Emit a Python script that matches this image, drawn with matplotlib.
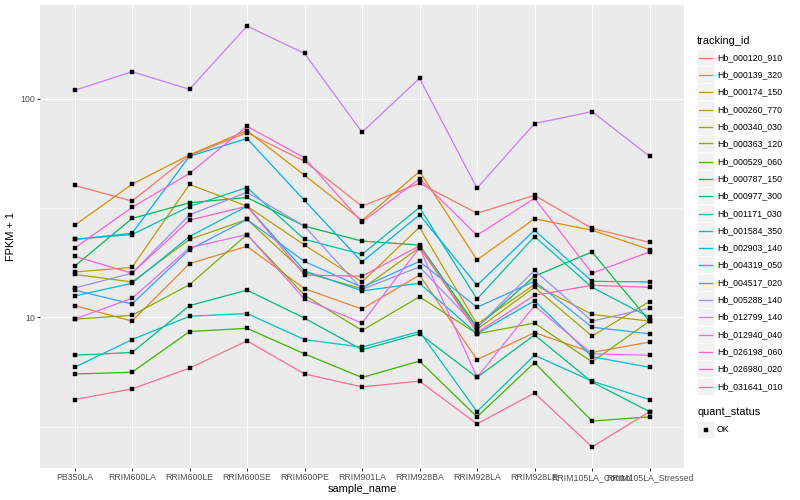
import matplotlib
matplotlib.use("Agg")
import matplotlib.pyplot as plt
import numpy as np
from matplotlib.patches import Rectangle
from matplotlib.lines import Line2D

plt.rcParams['font.family'] = ['Liberation Sans', 'DejaVu Sans']

# %% datos
sample_names = ["PB350LA", "RRIM600LA", "RRIM600LE", "RRIM600SE", "RRIM600PE",
                "RRIM901LA", "RRIM928BA", "RRIM928LA", "RRIM928LE",
                "RRIM105LA_Control", "RRIM105LA_Stressed"]

tracking_ids = ["Hb_000120_910", "Hb_000139_320", "Hb_000174_150", "Hb_000260_770",
                "Hb_000340_030", "Hb_000363_120", "Hb_000529_060", "Hb_000787_150",
                "Hb_000977_300", "Hb_001171_030", "Hb_001584_350", "Hb_002903_140",
                "Hb_004319_050", "Hb_004517_020", "Hb_005288_140", "Hb_012799_140",
                "Hb_012940_040", "Hb_026198_060", "Hb_026980_020", "Hb_031641_010"]

# FPKM + 1 por muestra
hb_000120_910 = [40.1, 34.0, 54.9, 69.9, 51.7, 32.2, 41.0, 29.9, 36.1, 25.5, 22.0]
hb_000139_320 = [11.3, 9.6, 17.6, 21.1, 13.5, 10.9, 15.6, 6.4, 8.5, 6.9, 7.7]
hb_000174_150 = [26.3, 40.6, 55.3, 71.4, 44.6, 27.7, 46.4, 18.3, 28.2, 25.0, 20.4]
hb_000260_770 = [16.1, 16.9, 40.5, 32.2, 21.4, 14.5, 25.8, 9.3, 14.1, 10.3, 9.6]
hb_000340_030 = [15.7, 14.5, 22.7, 28.0, 16.0, 13.5, 20.8, 8.8, 13.7, 8.2, 11.8]
hb_000363_120 = [9.8, 10.2, 14.1, 23.9, 12.6, 8.7, 12.4, 8.4, 9.4, 6.25, 9.6]
hb_000529_060 = [5.5, 5.6, 8.6, 8.9, 6.8, 5.3, 6.3, 3.5, 6.2, 3.35, 3.5]
hb_000787_150 = [17.1, 28.3, 33.4, 35.3, 26.1, 22.3, 21.4, 9.0, 15.4, 19.9, 9.6]
hb_000977_300 = [6.7, 6.9, 11.3, 13.3, 9.9, 7.1, 8.4, 5.3, 8.3, 5.05, 3.7]
hb_001171_030 = [22.7, 23.9, 32.1, 39.2, 22.7, 19.4, 31.8, 12.1, 23.4, 13.7, 10.0]
hb_001584_350 = [5.9, 7.9, 10.1, 10.4, 7.9, 7.3, 8.6, 3.7, 6.7, 5.1, 4.2]
hb_002903_140 = [12.5, 14.3, 23.4, 32.2, 16.3, 13.2, 14.3, 8.4, 11.9, 6.6, 5.9]
hb_004319_050 = [22.7, 24.2, 54.5, 65.7, 34.2, 17.9, 29.4, 14.0, 25.0, 14.6, 14.5]
hb_004517_020 = [13.3, 11.5, 20.4, 28.0, 18.0, 13.7, 18.0, 11.1, 14.6, 9.0, 8.4]
hb_005288_140 = [13.6, 15.9, 29.4, 37.3, 26.1, 13.4, 17.0, 9.0, 16.4, 9.6, 11.0]
hb_012799_140 = [109.1, 132.8, 110.3, 214.8, 161.0, 70.2, 123.8, 38.9, 76.9, 87.2, 54.5]
hb_012940_040 = [9.8, 12.2, 20.8, 23.9, 12.1, 9.4, 20.8, 5.3, 11.3, 6.8, 6.7]
hb_026198_060 = [20.7, 31.8, 45.5, 74.7, 53.6, 27.2, 43.0, 23.7, 35.0, 15.9, 19.9]
hb_026980_020 = [19.0, 15.9, 27.8, 32.2, 15.6, 15.4, 21.2, 8.5, 12.6, 14.0, 13.7]
hb_031641_010 = [4.2, 4.7, 5.85, 7.8, 5.5, 4.8, 5.1, 3.25, 4.5, 2.55, 3.7]

series = [hb_000120_910, hb_000139_320, hb_000174_150, hb_000260_770, hb_000340_030,
          hb_000363_120, hb_000529_060, hb_000787_150, hb_000977_300, hb_001171_030,
          hb_001584_350, hb_002903_140, hb_004319_050, hb_004517_020, hb_005288_140,
          hb_012799_140, hb_012940_040, hb_026198_060, hb_026980_020, hb_031641_010]

# paleta hue de ggplot (20)
colores = ["#F8766D", "#EA8331", "#D89000", "#C09B00", "#A3A500", "#7CAE00", "#39B600",
           "#00BB4E", "#00BF7D", "#00C1A3", "#00BFC4", "#00BAE0", "#00B0F6", "#35A2FF",
           "#9590FF", "#C77CFF", "#E76BF3", "#FA62DB", "#FF62BC", "#FF6C91"]

# %% figura
fig = plt.figure(figsize=(800 / 72, 500 / 72), dpi=72)
ax = fig.add_axes([40 / 800, 1 - 468 / 500, 644 / 800, 463 / 500])
ax.set_facecolor("#EBEBEB")
for s in ax.spines.values():
    s.set_visible(False)

x = np.arange(len(sample_names))
for vals, col in zip(series, colores):
    ax.plot(x, vals, color=col, lw=1.25, zorder=3)
for vals in series:
    ax.plot(x, vals, ls="none", marker="s", ms=3.5, mew=0.4, color="black", zorder=4)

ax.set_yscale("log")
ax.set_yticks([10, 100])
ax.set_yticklabels(["10", "100"])
ax.set_yticks([10 ** 0.5, 10 ** 1.5], minor=True)
ax.yaxis.set_minor_formatter(matplotlib.ticker.NullFormatter())
ax.set_xticks(x)
ax.set_xticklabels(sample_names)

# limites tipo ggplot (expansion 5% en escala log)
todos = np.log10(np.concatenate([np.array(v) for v in series]))
lo, hi = todos.min(), todos.max()
pad = 0.05 * (hi - lo)
ax.set_ylim(10 ** (lo - pad), 10 ** (hi + pad))
ax.set_xlim(-0.6, len(sample_names) - 0.4)

ax.tick_params(axis="both", which="major", length=2.75, width=1.0, color="#333333",
               labelsize=8.8, labelcolor="#4D4D4D", pad=2)
ax.tick_params(axis="y", which="minor", length=0)
ax.grid(True, which="major", color="white", lw=1.1, zorder=0)
ax.grid(True, which="minor", axis="y", color="white", lw=0.55, zorder=0)
ax.set_axisbelow(True)

ax.set_xlabel("sample_name", fontsize=11, labelpad=2)
ax.set_ylabel("FPKM + 1", fontsize=11, labelpad=4)

# %% leyenda (estilo ggplot, dibujada a mano)
def fx(px):
    return px / 800

def fy(py):
    return 1 - py / 500

fig.text(fx(697), fy(41), "tracking_id", fontsize=11, va="center", ha="left")
for i, (nombre, col) in enumerate(zip(tracking_ids, colores)):
    yc = int(57.3 + i * 17.3) + 0.5
    fig.add_artist(Rectangle((fx(697), fy(yc + 8.3)), fx(16.6), 16.6 / 500,
                             transform=fig.transFigure, facecolor="#F2F2F2",
                             edgecolor="white", lw=0.5, zorder=1))
    fig.add_artist(Line2D([fx(699), fx(712)], [fy(yc), fy(yc)], color=col, lw=1.3,
                          transform=fig.transFigure, zorder=5))
    fig.text(fx(717), fy(yc), nombre, fontsize=8.8, va="center", ha="left")

fig.text(fx(697), fy(412), "quant_status", fontsize=11, va="center", ha="left")
fig.add_artist(Rectangle((fx(697), fy(429.5 + 8.3)), fx(16.6), 16.6 / 500,
                         transform=fig.transFigure, facecolor="#F2F2F2",
                         edgecolor="white", lw=0.5, zorder=1))
fig.add_artist(Line2D([fx(705.5)], [fy(429.5)], marker="s", ms=3.5, mew=0.4, color="black",
                      transform=fig.transFigure, zorder=5))
fig.text(fx(717), fy(429.5), "OK", fontsize=8.8, va="center", ha="left")

fig.savefig("out.png", dpi=72)
